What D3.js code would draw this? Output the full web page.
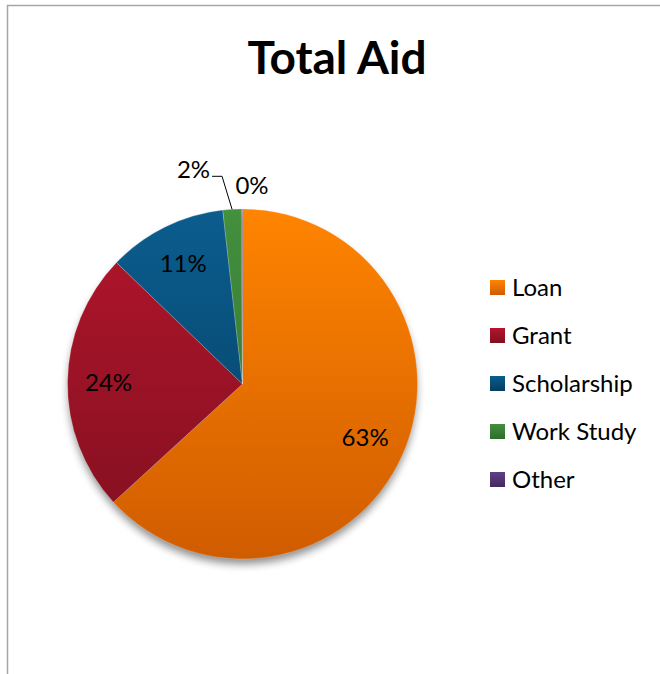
<!DOCTYPE html>
<html>
<head>
<meta charset="utf-8">
<script src="https://cdn.jsdelivr.net/npm/d3@7"></script>
<style>
  html, body { margin: 0; padding: 0; background: #fff; }
  svg { display: block; font-family: Lato, "Open Sans", sans-serif; }
</style>
</head>
<body>
<svg id="chart" width="660" height="674"></svg>
<script>
// ---- data ----
const categories = ["Loan", "Grant", "Scholarship", "Work Study", "Other"];
const values = [63.2, 24.0, 11.0, 1.7, 0.1];
const labels = ["63%", "24%", "11%", "2%", "0%"];
const colorsTop = ["#FF8400", "#B3152C", "#0B5D8E", "#43903E", "#5E3F88"];
const colorsBottom = ["#D05C00", "#80101F", "#053D60", "#2F6B2C", "#44295F"];
const title = "Total Aid";

// ---- layout ----
const W = 660, H = 674;
const cx = 242.5, cy = 384, R = 175;
const svg = d3.select("#chart");

// frame (left + top border)
svg.append("path")
  .attr("d", "M7.5,674 L7.5,5.5 L660,5.5")
  .attr("fill", "none").attr("stroke", "#a6a6a6").attr("stroke-width", 1.5);

const defs = svg.append("defs");
categories.forEach((c, i) => {
  const g = defs.append("linearGradient").attr("id", "grad" + i)
    .attr("gradientUnits", "userSpaceOnUse")
    .attr("x1", 0).attr("y1", -R).attr("x2", 0).attr("y2", R);
  g.append("stop").attr("offset", "0%").attr("stop-color", colorsTop[i]);
  g.append("stop").attr("offset", "100%").attr("stop-color", colorsBottom[i]);
  const lg = defs.append("linearGradient").attr("id", "lg" + i)
    .attr("x1", 0).attr("y1", 0).attr("x2", 0).attr("y2", 1);
  lg.append("stop").attr("offset", "0%").attr("stop-color", colorsTop[i]);
  lg.append("stop").attr("offset", "100%").attr("stop-color", colorsBottom[i]);
});
const f = defs.append("filter").attr("id", "shadow")
  .attr("x", "-20%").attr("y", "-20%").attr("width", "140%").attr("height", "140%");
f.append("feGaussianBlur").attr("stdDeviation", 4);

// title
svg.append("text")
  .attr("x", 337).attr("y", 74)
  .attr("text-anchor", "middle")
  .attr("font-weight", "bold").attr("font-size", 46)
  .attr("fill", "#000")
  .text(title);

const pie = d3.pie().sort(null).value(d => d)(values);
const arc = d3.arc().innerRadius(0).outerRadius(R);
const labelArc = d3.arc().innerRadius(134).outerRadius(134);

const g = svg.append("g").attr("transform", `translate(${cx},${cy})`);

// shadow
g.append("circle")
  .attr("cx", 0).attr("cy", 6).attr("r", R - 1)
  .attr("fill", "#000").attr("opacity", 0.45)
  .attr("filter", "url(#shadow)");

g.selectAll("path.slice").data(pie).enter().append("path")
  .attr("class", "slice")
  .attr("d", arc)
  .attr("fill", (d, i) => `url(#grad${i})`)
  .attr("stroke", "#fff").attr("stroke-opacity", 0.35).attr("stroke-width", 0.6);

// inside labels for big slices
const fs = 24;
g.selectAll("text.in").data(pie.filter(d => d.value >= 5)).enter().append("text")
  .attr("class", "in")
  .attr("transform", d => `translate(${labelArc.centroid(d)})`)
  .attr("text-anchor", "middle").attr("dy", "0.35em")
  .attr("font-size", fs).attr("fill", "#000")
  .text(d => labels[d.index]);

// outside labels for small slices
const small = pie.filter(d => d.value < 5);
small.forEach(d => {
  const mid = (d.startAngle + d.endAngle) / 2;
  const px = Math.sin(mid) * R, py = -Math.cos(mid) * R;
  if (d.index === 3) {
    const ex = px - 10, ey = py - 33;
    g.append("path")
      .attr("d", `M${px},${py} L${ex},${ey} L${ex - 10},${ey}`)
      .attr("fill", "none").attr("stroke", "#000").attr("stroke-width", 1);
    g.append("text")
      .attr("x", ex - 12).attr("y", ey + 2)
      .attr("text-anchor", "end")
      .attr("font-size", fs).attr("fill", "#000")
      .text(labels[d.index]);
  } else {
    g.append("text")
      .attr("x", px + 10).attr("y", py - 15)
      .attr("text-anchor", "middle")
      .attr("font-size", fs).attr("fill", "#000")
      .text(labels[d.index]);
  }
});

// legend
const legend = svg.append("g").attr("transform", "translate(490,280)");
const rows = legend.selectAll("g").data(categories).enter().append("g")
  .attr("transform", (d, i) => `translate(0,${i * 48})`);
rows.append("rect").attr("width", 15).attr("height", 15)
  .attr("fill", (d, i) => `url(#lg${i})`);
rows.append("text").attr("x", 22).attr("y", 16)
  .attr("font-size", 24).attr("fill", "#000")
  .text(d => d);
</script>
</body>
</html>
